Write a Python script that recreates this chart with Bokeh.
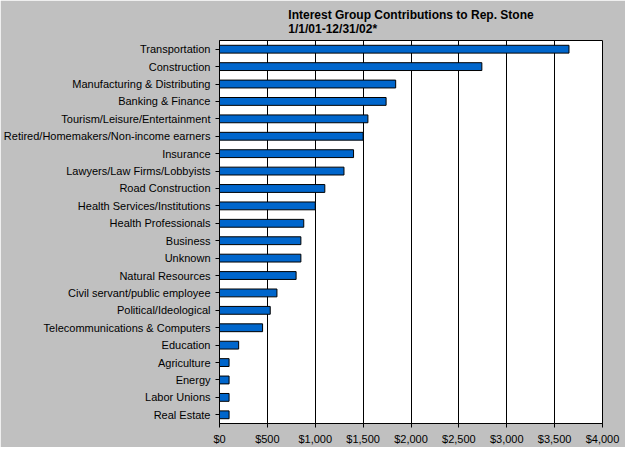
from bokeh.plotting import figure
from bokeh.embed import file_html
from bokeh.resources import INLINE
from bokeh.models import NumeralTickFormatter, FixedTicker, Range1d

categories = ["Transportation", "Construction", "Manufacturing & Distributing", "Banking & Finance",
              "Tourism/Leisure/Entertainment", "Retired/Homemakers/Non-income earners", "Insurance",
              "Lawyers/Law Firms/Lobbyists", "Road Construction", "Health Services/Institutions",
              "Health Professionals", "Business", "Unknown", "Natural Resources",
              "Civil servant/public employee", "Political/Ideological", "Telecommunications & Computers",
              "Education", "Agriculture", "Energy", "Labor Unions", "Real Estate"]
values = [3650, 2740, 1840, 1740, 1550, 1500, 1400, 1300, 1100, 1000, 880, 850, 850, 800,
          600, 530, 450, 200, 100, 100, 100, 100]
x_ticks = [0, 500, 1000, 1500, 2000, 2500, 3000, 3500, 4000]

p = figure(width=625, height=447, y_range=list(reversed(categories)), x_range=Range1d(0, 4000),
           output_backend="svg", toolbar_location=None,
           title="Interest Group Contributions to Rep. Stone\n1/1/01-12/31/02*",
           min_border_left=10, min_border_right=23, min_border_bottom=10, min_border_top=5)
p.background_fill_color = "white"
p.border_fill_color = "#c0c0c0"
p.outline_line_color = "black"
p.title.align = "center"
p.title.text_font = "Liberation Sans"
p.title.text_font_size = "12px"
p.title.text_font_style = "bold"
p.title.text_color = "black"

p.hbar(y=categories, right=values, left=0, height=0.45, fill_color="#0066cc", line_color="black", line_width=1)

p.xaxis.ticker = FixedTicker(ticks=x_ticks)
p.xaxis.formatter = NumeralTickFormatter(format="$0,0")
p.xgrid.grid_line_color = "black"
p.xgrid.grid_line_alpha = 1
p.ygrid.grid_line_color = None
for ax in (p.xaxis, p.yaxis):
    ax.major_label_text_font = "Liberation Sans"
    ax.major_label_text_font_size = "11px"
    ax.major_label_text_color = "black"
    ax.axis_line_color = "black"
    ax.minor_tick_line_color = None
    ax.major_tick_line_color = "black"
    ax.major_tick_out = 4
    ax.major_tick_in = 0
p.y_range.range_padding = 0

open("out.html", "w").write(file_html(p, INLINE))
